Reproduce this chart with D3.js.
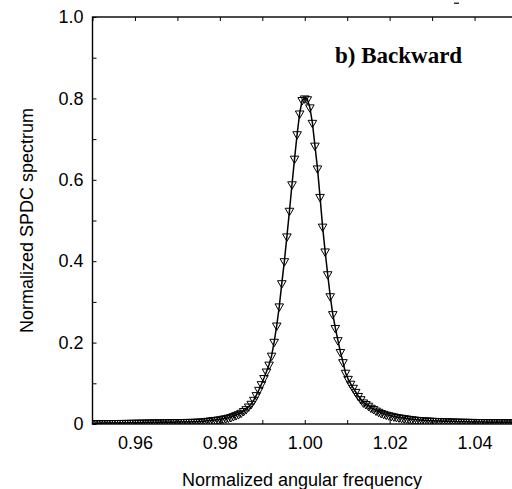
<!DOCTYPE html>
<html>
  <head>
    <meta charset="utf-8">
    <title>Backward SPDC spectrum</title>
    <script src="https://d3js.org/d3.v7.min.js"></script>
    <style>
      body{
        margin: 0;
        background: white;
      }
      .tick text{
        font-family: "Liberation Sans", Arial, sans-serif;
        font-size: 18px;
        fill: black;
      }
      .axis-title{
        font-family: "Liberation Sans", Arial, sans-serif;
        font-size: 18px;
        fill: black;
      }
      .panel-title{
        font-family: "Liberation Serif", "Times New Roman", serif;
        font-size: 23px;
        font-weight: bold;
        fill: black;
      }
    </style>
  </head>
  <body>
    <div id="container"></div>
    <script>

      // DATA - normalized angular frequency and the SPDC spectrum
      const freq = [
        0.9502, 0.9508, 0.9514, 0.9520, 0.9526, 0.9532, 0.9538, 0.9544, 0.9550, 0.9556,
        0.9562, 0.9568, 0.9574, 0.9580, 0.9586, 0.9592, 0.9598, 0.9604, 0.9610, 0.9616,
        0.9622, 0.9628, 0.9634, 0.9640, 0.9646, 0.9652, 0.9658, 0.9664, 0.9670, 0.9676,
        0.9682, 0.9688, 0.9694, 0.9700, 0.9706, 0.9712, 0.9718, 0.9724, 0.9730, 0.9736,
        0.9742, 0.9748, 0.9754, 0.9760, 0.9766, 0.9772, 0.9778, 0.9784, 0.9790, 0.9796,
        0.9802, 0.9808, 0.9814, 0.9820, 0.9826, 0.9832, 0.9838, 0.9844, 0.9850, 0.9856,
        0.9862, 0.9868, 0.9874, 0.9880, 0.9886, 0.9892, 0.9898, 0.9904, 0.9910, 0.9916,
        0.9922, 0.9928, 0.9934, 0.9940, 0.9946, 0.9952, 0.9958, 0.9964, 0.9970, 0.9976,
        0.9982, 0.9988, 0.9994, 1.0000, 1.0006, 1.0012, 1.0018, 1.0024, 1.0030, 1.0036,
        1.0042, 1.0048, 1.0054, 1.0060, 1.0066, 1.0072, 1.0078, 1.0084, 1.0090, 1.0096,
        1.0102, 1.0108, 1.0114, 1.0120, 1.0126, 1.0132, 1.0138, 1.0144, 1.0150, 1.0156,
        1.0162, 1.0168, 1.0174, 1.0180, 1.0186, 1.0192, 1.0198, 1.0204, 1.0210, 1.0216,
        1.0222, 1.0228, 1.0234, 1.0240, 1.0246, 1.0252, 1.0258, 1.0264, 1.0270, 1.0276,
        1.0282, 1.0288, 1.0294, 1.0300, 1.0306, 1.0312, 1.0318, 1.0324, 1.0330, 1.0336,
        1.0342, 1.0348, 1.0354, 1.0360, 1.0366, 1.0372, 1.0378, 1.0384, 1.0390, 1.0396,
        1.0402, 1.0408, 1.0414, 1.0420, 1.0426, 1.0432, 1.0438, 1.0444, 1.0450, 1.0456,
        1.0462, 1.0468, 1.0474, 1.0480, 1.0486, 1.0492, 1.0498
      ];

      const spectrum = [
        0.0020, 0.0020, 0.0021, 0.0021, 0.0022, 0.0022, 0.0023, 0.0023, 0.0024, 0.0024,
        0.0025, 0.0026, 0.0026, 0.0027, 0.0028, 0.0029, 0.0030, 0.0031, 0.0032, 0.0033,
        0.0034, 0.0035, 0.0036, 0.0037, 0.0038, 0.0039, 0.0040, 0.0041, 0.0042, 0.0043,
        0.0044, 0.0045, 0.0046, 0.0047, 0.0048, 0.0049, 0.0050, 0.0051, 0.0052, 0.0053,
        0.0055, 0.0057, 0.0059, 0.0064, 0.0071, 0.0079, 0.0086, 0.0094, 0.0101, 0.0109,
        0.0117, 0.0130, 0.0142, 0.0155, 0.0170, 0.0194, 0.0219, 0.0243, 0.0275, 0.0320,
        0.0365, 0.0430, 0.0497, 0.0595, 0.0710, 0.0840, 0.0980, 0.1130, 0.1290, 0.1460,
        0.168, 0.202, 0.242, 0.289, 0.346, 0.400, 0.461, 0.524, 0.589, 0.652,
        0.712, 0.763, 0.796, 0.800, 0.798, 0.778, 0.740, 0.684, 0.628, 0.558,
        0.485, 0.424, 0.368, 0.314, 0.270, 0.236, 0.206, 0.177, 0.152, 0.126,
        0.111, 0.099, 0.089, 0.079, 0.069, 0.061, 0.053, 0.049, 0.045, 0.040,
        0.037, 0.033, 0.030, 0.027, 0.025, 0.023, 0.0215, 0.0200, 0.0186, 0.0173,
        0.0162, 0.0152, 0.0143, 0.0134, 0.0125, 0.0117, 0.0109, 0.0102, 0.0097, 0.0092,
        0.0088, 0.0085, 0.0082, 0.0079, 0.0076, 0.0073, 0.0071, 0.0069, 0.0067, 0.0065,
        0.0063, 0.0061, 0.0059, 0.0057, 0.0056, 0.0055, 0.0054, 0.0053, 0.0052, 0.0051,
        0.0050, 0.0049, 0.0048, 0.0047, 0.0046, 0.0045, 0.0045, 0.0044, 0.0044, 0.0043,
        0.0043, 0.0042, 0.0042, 0.0041, 0.0041, 0.0040, 0.0040
      ];

      // TICKS
      const xTicks = [0.95, 0.96, 0.97, 0.98, 0.99, 1.00, 1.01, 1.02, 1.03, 1.04, 1.05];
      const xTickLabels = ["0.96", "0.98", "1.00", "1.02", "1.04"];
      const yTicks = [0, 0.1, 0.2, 0.3, 0.4, 0.5, 0.6, 0.7, 0.8, 0.9, 1.0];
      const yTickLabels = ["0", "0.2", "0.4", "0.6", "0.8", "1.0"];

      const data = freq.map((f, i) => ({ f: f, s: spectrum[i] }));

      // SET DIMENSIONS
      const width = 512, height = 489;
      const plot = { left: 92.5, right: 517, top: 17, bottom: 424 };

      const svg = d3.select("#container")
        .append("svg")
        .attr("width", width)
        .attr("height", height);

      // SCALES
      const x = d3.scaleLinear()
        .domain([0.95, 1.05])
        .range([plot.left, plot.right]);
      const y = d3.scaleLinear()
        .domain([0, 1])
        .range([plot.bottom, plot.top]);

      // CLIP TO THE FRAME
      svg.append("clipPath")
        .attr("id", "clip")
        .append("rect")
        .attr("x", plot.left)
        .attr("y", plot.top)
        .attr("width", plot.right - plot.left)
        .attr("height", plot.bottom - plot.top);

      // AXES - ticks point inward, labels only on every second tick
      const fmtX = d => {
        const s = d3.format(".2f")(d);
        return xTickLabels.includes(s) ? s : "";
      };
      const fmtY = d => {
        const s = d === 0 ? "0" : d3.format(".1f")(d);
        return yTickLabels.includes(s) ? s : "";
      };

      svg.append("g")
        .attr("transform", "translate(0," + plot.bottom + ")")
        .call(d3.axisBottom(x).tickValues(xTicks).tickFormat(fmtX)
          .tickSizeInner(-4).tickSizeOuter(0).tickPadding(12))
        .call(g => g.select(".domain").remove());

      svg.append("g")
        .attr("transform", "translate(0," + plot.top + ")")
        .call(d3.axisTop(x).tickValues(xTicks).tickFormat("")
          .tickSizeInner(-4).tickSizeOuter(0))
        .call(g => g.select(".domain").remove());

      svg.append("g")
        .attr("transform", "translate(" + plot.left + ",0)")
        .call(d3.axisLeft(y).tickValues(yTicks).tickFormat(fmtY)
          .tickSizeInner(-4).tickSizeOuter(0).tickPadding(9))
        .call(g => g.select(".domain").remove());

      svg.selectAll(".tick line")
        .attr("stroke", "black")
        .attr("stroke-width", 1);

      // FRAME
      svg.append("rect")
        .attr("x", plot.left)
        .attr("y", plot.top)
        .attr("width", plot.right - plot.left)
        .attr("height", plot.bottom - plot.top)
        .attr("fill", "none")
        .attr("stroke", "black")
        .attr("stroke-width", 1.4);

      // CURVE + TRIANGLE MARKERS
      const area = svg.append("g").attr("clip-path", "url(#clip)");

      area.append("path")
        .datum(data)
        .attr("fill", "none")
        .attr("stroke", "black")
        .attr("stroke-width", 1.5)
        .attr("d", d3.line().x(d => x(d.f)).y(d => y(d.s)));

      const tri = d3.symbol().type(d3.symbolTriangle).size(32);
      area.selectAll(".marker")
        .data(data)
        .enter()
        .append("path")
        .attr("class", "marker")
        .attr("d", tri)
        .attr("transform", d => "translate(" + x(d.f) + "," + y(d.s) + ") rotate(180)")
        .attr("fill", "none")
        .attr("stroke", "black")
        .attr("stroke-width", 1);

      // TITLES
      svg.append("text")
        .attr("class", "axis-title")
        .attr("x", 302)
        .attr("y", 486)
        .attr("text-anchor", "middle")
        .text("Normalized angular frequency");

      svg.append("text")
        .attr("class", "axis-title")
        .attr("transform", "translate(33," + (plot.top + plot.bottom) / 2 + ") rotate(-90)")
        .attr("text-anchor", "middle")
        .text("Normalized SPDC spectrum");

      svg.append("text")
        .attr("class", "panel-title")
        .attr("x", 335)
        .attr("y", 63)
        .text("b) Backward");

      // small leftover mark above the frame
      svg.append("rect")
        .attr("x", 454)
        .attr("y", 2.5)
        .attr("width", 5)
        .attr("height", 1.5)
        .attr("fill", "#333");

    </script>
  </body>
</html>
